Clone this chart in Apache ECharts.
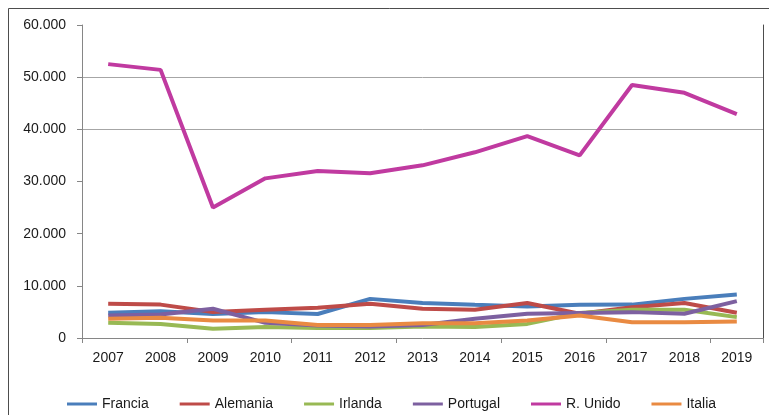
<!DOCTYPE html>
<html>
<head>
    <meta charset="utf-8">
    <title>ECharts</title>
    <script src="https://cdn.jsdelivr.net/npm/echarts@6/dist/echarts.min.js"></script>
    <style type="text/css">
    html, body { margin: 0; padding: 0; background: #fff; }
    </style>
</head>
<body>
    <div id="main" style="width: 769px;height:415px;"></div>
    <script type="text/javascript">
        // años
        var years = ['2007','2008','2009','2010','2011','2012','2013','2014','2015','2016','2017','2018','2019'];
        // valores por país
        var francia  = [4830, 5150, 4600, 4960, 4600, 7500, 6700, 6370, 6050, 6370, 6400, 7500, 8350];
        var alemania = [6570, 6400, 5000, 5400, 5800, 6570, 5600, 5400, 6700, 4650, 5900, 6700, 4830];
        var irlanda  = [2900, 2700, 1770, 2100, 1900, 1900, 2200, 2100, 2700, 4800, 5400, 5400, 4000];
        var portugal = [4300, 4500, 5600, 2900, 2400, 2200, 2500, 3700, 4650, 4800, 4960, 4650, 7070];
        var runido   = [52500, 51400, 25000, 30600, 32000, 31600, 33100, 35600, 38700, 35000, 48500, 47000, 42900];
        var italia   = [3700, 3900, 3360, 3360, 2500, 2500, 2850, 2850, 3360, 4300, 3000, 3000, 3160];

        var names  = ['Francia', 'Alemania', 'Irlanda', 'Portugal', 'R. Unido', 'Italia'];
        var datos  = [francia, alemania, irlanda, portugal, runido, italia];
        var colores = ['#4a7ebb', '#be4b48', '#98b954', '#7d60a0', '#c03aa0', '#e98a42'];

        var font = 'Liberation Sans';

        var series = names.map(function (n, i) {
            return {
                name: n,
                type: 'line',
                data: datos[i],
                symbol: 'none',
                lineStyle: { width: 4, color: colores[i] },
                itemStyle: { color: colores[i] }
            };
        });

        var myChart = echarts.init(document.getElementById('main'));
        var option = {
            animation: false,
            color: colores,
            grid: { left: 82, right: 6, top: 25, bottom: 77 },
            graphic: [{
                type: 'rect',
                shape: { x: 8.5, y: 8.5, width: 900, height: 600 },
                style: { fill: 'none', stroke: '#4d4d4d', lineWidth: 1 },
                silent: true
            }],
            legend: {
                data: names,
                left: 62,
                top: 392,
                icon: 'rect',
                itemWidth: 30,
                itemHeight: 3,
                itemGap: 31,
                textStyle: { fontFamily: font, fontSize: 14, color: '#1a1a1a' }
            },
            xAxis: {
                type: 'category',
                data: years,
                boundaryGap: true,
                axisLine: { lineStyle: { color: '#868686', width: 1 } },
                axisTick: { show: true, interval: 1, length: 5, lineStyle: { color: '#868686' } },
                axisLabel: { interval: 0, margin: 13, fontFamily: font, fontSize: 14, color: '#1a1a1a' }
            },
            yAxis: [{
                type: 'value',
                min: 0,
                max: 60000,
                interval: 10000,
                axisLine: { show: true, lineStyle: { color: '#868686', width: 1 } },
                axisTick: { show: true, length: 5, lineStyle: { color: '#868686' } },
                axisLabel: {
                    margin: 16,
                    fontFamily: font,
                    fontSize: 14,
                    color: '#1a1a1a',
                    formatter: function (v) {
                        return String(v).replace(/\B(?=(\d{3})+(?!\d))/g, '.');
                    }
                },
                splitLine: {
                    show: true,
                    lineStyle: {
                        color: ['transparent', 'transparent', 'transparent', 'transparent', '#a6a6a6', '#a6a6a6', 'transparent'],
                        width: 1
                    }
                }
            }, {
                type: 'value',
                position: 'right',
                min: 0,
                max: 60000,
                axisLine: { show: true, lineStyle: { color: '#4d4d4d', width: 1 } },
                axisTick: { show: false },
                axisLabel: { show: false },
                splitLine: { show: false }
            }],
            series: series
        };
        myChart.setOption(option);
    </script>
</body>
</html>
